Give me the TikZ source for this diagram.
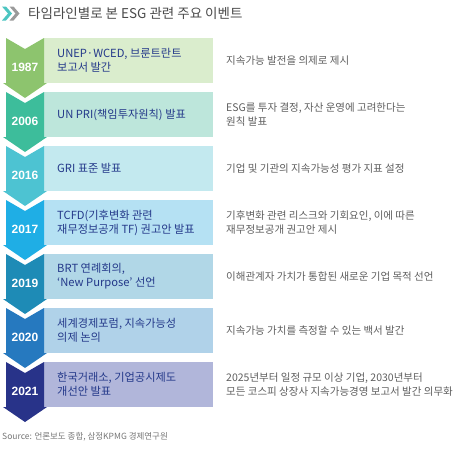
\documentclass[tikz,border=0pt]{standalone}
\usepackage{fontspec}
\setmainfont{Noto Sans CJK KR}
\newfontfamily\yearfont{Liberation Sans}
\definecolor{a1}{HTML}{8DC46E}\definecolor{b1}{HTML}{DAEDCD}
\definecolor{a2}{HTML}{3DBD9B}\definecolor{b2}{HTML}{BDE6DB}
\definecolor{a3}{HTML}{4DC3D2}\definecolor{b3}{HTML}{C3E9EF}
\definecolor{a4}{HTML}{1FAEE5}\definecolor{b4}{HTML}{B5E1F3}
\definecolor{a5}{HTML}{1E8BB6}\definecolor{b5}{HTML}{B1D7E7}
\definecolor{a6}{HTML}{2679BF}\definecolor{b6}{HTML}{B0D2E9}
\definecolor{a7}{HTML}{283389}\definecolor{b7}{HTML}{B1B6DA}
\definecolor{midtxt}{HTML}{24398A}
\definecolor{righttxt}{HTML}{5E5E5E}
\definecolor{titletxt}{HTML}{4A4A4A}
\definecolor{chevteal}{HTML}{4CC5C1}
\definecolor{chevgray}{HTML}{9A9A9A}
\tikzset{
  yeartxt/.style={text=white, font=\fontsize{12}{14}\selectfont\yearfont\bfseries, inner sep=0pt},
  midlabel/.style={anchor=west, align=left, text=midtxt, font=\fontsize{11.2}{14}\selectfont, inner sep=0pt},
  rightlabel/.style={anchor=west, align=left, text=righttxt, font=\fontsize{10.5}{14}\selectfont, inner sep=0pt},
}
\newcommand{\tlrow}[6]{%
  % #1 index, #2 arrow colour, #3 box colour, #4 year, #5 middle, #6 right
  \pgfmathsetmacro{\ya}{38+54*#1}
  \pgfmathsetmacro{\yb}{83+54*#1}
  \pgfmathsetmacro{\ym}{(\ya+\yb)/2}
  \fill[#3] (44,\ya) rectangle (213,\yb);
  \fill[#2] (6,\ya) -- (25,\ya+11) -- (44,\ya) -- (44,\yb) -- (47,\yb) -- (25,\yb+15) -- (3,\yb) -- (6,\yb) -- cycle;
  \node[yeartxt] (year#1) at (25,\ya+29) {#4};
  \node[midlabel] (mid#1) at (57,\ym) {#5};
  \node[rightlabel] (right#1) at (226,\ym) {#6};
}
\begin{document}
\begin{tikzpicture}[x=1pt,y=-1pt]
\useasboundingbox (0,0) rectangle (460,451);
% title icon
\fill[chevteal] (2,6.5) -- (6,6.5) -- (12,13.5) -- (6,20.5) -- (2,20.5) -- (8,13.5) -- cycle;
\fill[chevgray] (9.5,6.5) -- (13.5,6.5) -- (19.5,13.5) -- (13.5,20.5) -- (9.5,20.5) -- (15.5,13.5) -- cycle;
\node[anchor=west, text=titletxt, font=\fontsize{13.5}{16}\selectfont, inner sep=0pt] (title) at (28,13.5) {타임라인별로 본 ESG 관련 주요 이벤트};
\tlrow{0}{a1}{b1}{1987}{UNEP·WCED, 브룬트란트\\보고서 발간}{지속가능 발전을 의제로 제시}
\tlrow{1}{a2}{b2}{2006}{UN PRI(책임투자원칙) 발표}{ESG를 투자 결정, 자산 운영에 고려한다는\\원칙 발표}
\tlrow{2}{a3}{b3}{2016}{GRI 표준 발표}{기업 및 기관의 지속가능성 평가 지표 설정}
\tlrow{3}{a4}{b4}{2017}{TCFD(기후변화 관련\\재무정보공개 TF) 권고안 발표}{기후변화 관련 리스크와 기회요인, 이에 따른\\재무정보공개 권고안 제시}
\tlrow{4}{a5}{b5}{2019}{BRT 연례회의,\\‘New Purpose’ 선언}{이해관계자 가치가 통합된 새로운 기업 목적 선언}
\tlrow{5}{a6}{b6}{2020}{세계경제포럼, 지속가능성\\의제 논의}{지속가능 가치를 측정할 수 있는 백서 발간}
\tlrow{6}{a7}{b7}{2021}{한국거래소, 기업공시제도\\개선안 발표}{2025년부터 일정 규모 이상 기업, 2030년부터\\모든 코스피 상장사 지속가능경영 보고서 발간 의무화}
\node[anchor=west, text=righttxt!85, font=\fontsize{8.5}{10}\selectfont, inner sep=0pt] (source) at (2,437) {Source: 언론보도 종합, 삼정KPMG 경제연구원};
\end{tikzpicture}
\end{document}
